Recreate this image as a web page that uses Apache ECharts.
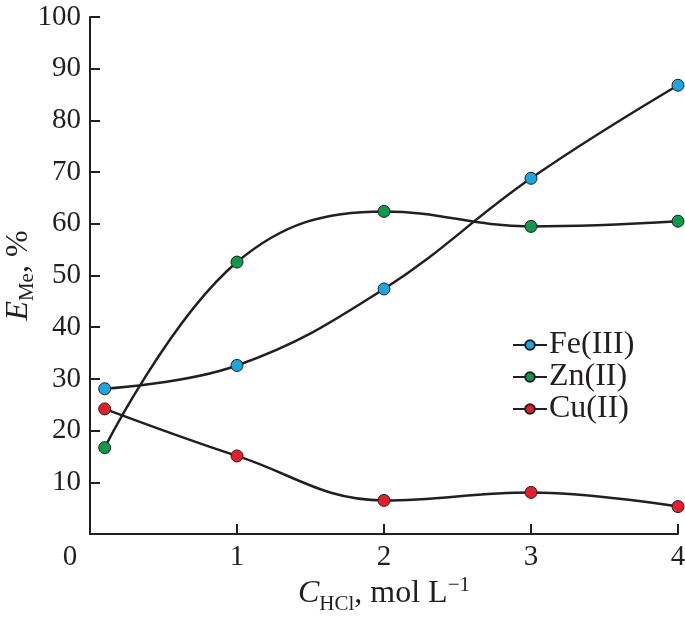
<!DOCTYPE html>
<html>
<head>
<meta charset="utf-8">
<script src="https://cdn.jsdelivr.net/npm/echarts@6/dist/echarts.min.js"></script>
<style>html,body{margin:0;padding:0;background:#fff}#c{width:685px;height:619px}</style>
</head>
<body>
<div id="c"></div>
<script>
const xValues = [0.1, 1, 2, 3, 4];
const feValues = [28.1, 32.6, 47.4, 68.8, 86.8];
const znValues = [16.7, 52.6, 62.4, 59.5, 60.5];
const cuValues = [24.2, 15.1, 6.5, 8.05, 5.3];
const seriesNames = ['Fe(III)', 'Zn(II)', 'Cu(II)'];
const seriesColors = ['#1aa6e0', '#0b9a4a', '#e61e2b'];
const xTicks = [0, 1, 2, 3, 4];
const yTicks = [10, 20, 30, 40, 50, 60, 70, 80, 90, 100];

const ink = '#231f20';
const font = 'Liberation Serif';
const fs = 29;
const nfs = 32;
const sfs = 21;
const pairs = v => xValues.map((x, i) => [x, v[i]]);
const allValues = [feValues, znValues, cuValues];

const chart = echarts.init(document.getElementById('c'), null, {renderer: 'canvas'});
chart.setOption({
  animation: false,
  backgroundColor: '#fff',
  grid: {left: 90, right: 7, top: 17, bottom: 85, containLabel: false, outerBoundsMode: 'none'},
  legend: {
    orient: 'vertical', left: 507, top: 324,
    itemWidth: 34, itemHeight: 12, itemGap: 0,
    textStyle: {fontFamily: font, fontSize: 32, lineHeight: 32, color: ink, padding: [0, 0, 0, -3]},
    data: seriesNames
  },
  xAxis: {
    type: 'value', min: 0, max: 4, interval: 1,
    axisLine: {lineStyle: {color: ink, width: 2}},
    axisTick: {inside: true, length: 10, lineStyle: {color: ink, width: 2}},
    splitLine: {show: false},
    axisLabel: {
      margin: 9, fontFamily: font, fontSize: fs, color: ink,
      formatter: v => xTicks.includes(v) ? (v === 0 ? '{z|0}' : String(v)) : '',
      rich: {z: {fontFamily: font, fontSize: fs, color: ink, padding: [0, 40, 0, 0]}}
    },
    name: '{i|C}{s|HCl}{n|, mol L}{p|\u22121}',
    nameLocation: 'middle', nameGap: 41, nameMoveOverlap: false,
    nameTextStyle: {
      rich: {
        i: {fontFamily: font, fontSize: nfs, fontStyle: 'italic', color: ink, lineHeight: 38},
        s: {fontFamily: font, fontSize: sfs, color: ink, verticalAlign: 'bottom', lineHeight: 38, padding: [0, 0, -2, 0]},
        n: {fontFamily: font, fontSize: nfs, color: ink, lineHeight: 38},
        p: {fontFamily: font, fontSize: sfs, color: ink, verticalAlign: 'top', lineHeight: 38}
      }
    }
  },
  yAxis: {
    type: 'value', min: 0, max: 100, interval: 10,
    axisLine: {show: true, lineStyle: {color: ink, width: 2}},
    axisTick: {show: true, inside: true, length: 10, lineStyle: {color: ink, width: 2}},
    splitLine: {show: false},
    axisLabel: {
      margin: 9, fontFamily: font, fontSize: fs, color: ink,
      formatter: v => yTicks.includes(v) ? String(v) : ''
    },
    name: '{i|E}{s|Me}{n|, %}',
    nameLocation: 'middle', nameGap: 52, nameRotate: 90, nameMoveOverlap: false,
    nameTextStyle: {
      rich: {
        i: {fontFamily: font, fontSize: nfs, fontStyle: 'italic', color: ink, lineHeight: 38},
        s: {fontFamily: font, fontSize: sfs, color: ink, verticalAlign: 'bottom', lineHeight: 38},
        n: {fontFamily: font, fontSize: nfs, color: ink, lineHeight: 38}
      }
    }
  },
  series: seriesNames.map((name, k) => ({
    name, type: 'line', smooth: 0.4,
    data: pairs(allValues[k]),
    symbol: 'circle', symbolSize: 12,
    lineStyle: {color: ink, width: 2.5},
    itemStyle: {color: seriesColors[k], borderColor: ink, borderWidth: 1}
  }))
});
</script>
</body>
</html>
